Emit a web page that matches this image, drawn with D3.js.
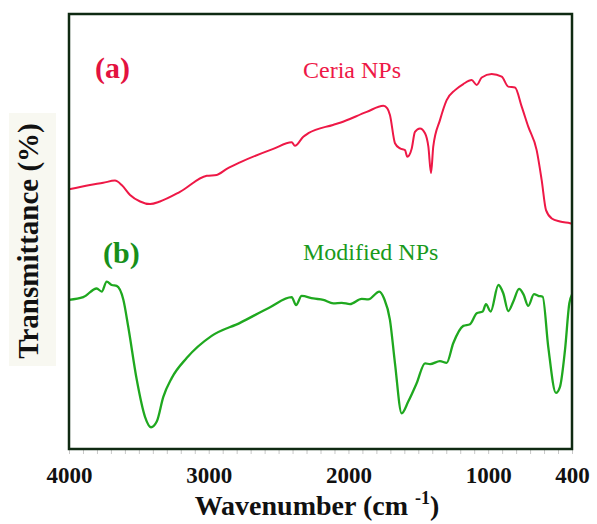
<!DOCTYPE html>
<html>
<head>
<meta charset="utf-8">
<script src="https://cdn.jsdelivr.net/npm/d3@7"></script>
<style>
  html, body { margin: 0; padding: 0; background: #fff; }
  svg { display: block; }
  text { font-family: "Liberation Serif", "DejaVu Serif", serif; }
</style>
</head>
<body>
<svg id="chart" width="597" height="524"></svg>
<script>
  // ---- data (wavenumber cm-1, transmittance a.u.) ----
  const ceriaWave = [4000, 3850, 3755, 3671, 3623, 3563, 3491, 3420, 3349, 3206, 3014, 2943, 2871, 2776, 2538, 2406, 2383, 2323, 2287, 2111, 2060, 1869, 1750, 1722, 1703, 1667, 1631, 1595, 1579, 1547, 1524, 1488, 1452, 1428, 1409, 1393, 1345, 1297, 1237, 1178, 1118, 1082, 1046, 975, 903, 856, 808, 760, 713, 653, 617, 586, 545, 486, 414, 400];
  const ceriaT = [59.7, 60.7, 61.2, 61.7, 60.7, 58.4, 56.9, 56.3, 56.9, 59.1, 62.8, 63.0, 64.4, 65.9, 69.0, 70.5, 69.7, 71.8, 72.6, 74.5, 75.0, 77.5, 78.9, 78.3, 76.8, 70.3, 69.1, 68.7, 67.2, 69.1, 72.9, 73.7, 72.6, 69.5, 63.4, 69.5, 75.6, 80.2, 82.5, 83.9, 84.8, 83.7, 85.4, 86.2, 85.6, 83.3, 83.1, 78.7, 74.1, 68.7, 61.8, 54.9, 53.0, 52.3, 51.9, 51.8];

  const modWave = [4000, 3898, 3802, 3766, 3730, 3694, 3659, 3611, 3576, 3515, 3456, 3413, 3372, 3325, 3265, 3158, 2979, 2776, 2561, 2406, 2375, 2335, 2252, 2180, 2108, 2048, 1989, 1905, 1858, 1779, 1745, 1703, 1667, 1619, 1572, 1512, 1452, 1416, 1345, 1297, 1250, 1178, 1130, 1082, 1039, 1016, 982, 927, 892, 856, 820, 779, 748, 713, 672, 641, 610, 570, 515, 486, 450, 419, 400];
  const modT = [34.3, 34.9, 36.9, 36.2, 38.5, 37.7, 37.5, 34.3, 28.1, 15.9, 7.4, 5.0, 6.3, 12.0, 16.3, 20.9, 26.0, 29.0, 32.6, 34.9, 33.1, 35.2, 34.6, 34.3, 33.5, 33.6, 33.3, 34.5, 34.4, 36.2, 34.6, 29.7, 19.7, 8.2, 10.9, 15.1, 19.7, 19.5, 20.2, 19.8, 24.3, 28.3, 28.7, 31.2, 31.6, 33.3, 31.6, 37.7, 35.8, 31.7, 33.9, 36.8, 35.6, 32.9, 35.6, 35.2, 35.0, 23.5, 12.9, 14.3, 22.8, 33.5, 35.5];

  const tickLabels = [4000, 3000, 2000, 1000, 400];
  const minorTicks = d3.range(4000, 399, -100);

  // ---- layout ----
  const margin = { left: 69, right: 25, top: 14, bottom: 75 };
  const W = 597, H = 524;
  const svg = d3.select("#chart");

  const x = d3.scaleLinear().domain([4000, 400]).range([margin.left, W - margin.right]);
  const y = d3.scaleLinear().domain([0, 100]).range([H - margin.bottom, margin.top]);

  // y label background
  svg.append("rect")
    .attr("x", 9).attr("y", 113)
    .attr("width", 47).attr("height", 253)
    .attr("fill", "#f8f8f1");

  // minor ticks (faint)
  svg.append("g")
    .attr("transform", `translate(0,${y(0)})`)
    .call(d3.axisBottom(x).tickValues(minorTicks).tickSize(5).tickFormat(""))
    .call((g) => g.select(".domain").remove())
    .call((g) => g.selectAll("line").attr("stroke", "#c8c8c8").attr("stroke-width", 1));

  // tick labels
  svg.append("g")
    .attr("transform", `translate(0,${y(0)})`)
    .call(d3.axisBottom(x).tickValues(tickLabels).tickSize(0).tickPadding(18).tickFormat(d3.format("d")))
    .call((g) => g.select(".domain").remove())
    .call((g) =>
      g.selectAll("text")
        .attr("fill", "#111")
        .style("font-family", "'Liberation Serif', serif")
        .style("font-size", "23px")
        .style("font-weight", "bold")
    );

  // curves
  const line = d3.line()
    .x((d) => x(d[0]))
    .y((d) => y(d[1]))
    .curve(d3.curveMonotoneX);

  svg.append("path")
    .datum(d3.zip(ceriaWave, ceriaT))
    .attr("fill", "none")
    .attr("stroke", "#ee1846")
    .attr("stroke-width", 2)
    .attr("stroke-linejoin", "round")
    .attr("d", line);

  svg.append("path")
    .datum(d3.zip(modWave, modT))
    .attr("fill", "none")
    .attr("stroke", "#1fa81f")
    .attr("stroke-width", 2.3)
    .attr("stroke-linejoin", "round")
    .attr("d", line);

  // frame
  svg.append("rect")
    .attr("x", x(4000)).attr("y", y(100))
    .attr("width", x(400) - x(4000))
    .attr("height", y(0) - y(100))
    .attr("fill", "none")
    .attr("stroke", "#0f2a12")
    .attr("stroke-width", 2.5);

  // annotations
  svg.append("text").attr("x", 95).attr("y", 78)
    .attr("fill", "#e3123f").style("font-size", "30px").style("font-weight", "bold")
    .text("(a)");
  svg.append("text").attr("x", 303).attr("y", 78)
    .attr("fill", "#ee1846").style("font-size", "24px")
    .text("Ceria NPs");
  svg.append("text").attr("x", 103).attr("y", 263)
    .attr("fill", "#17901a").style("font-size", "30px").style("font-weight", "bold")
    .text("(b)");
  svg.append("text").attr("x", 303).attr("y", 260)
    .attr("fill", "#1a9a1c").style("font-size", "24px")
    .text("Modified NPs");

  // axis titles
  const xl = svg.append("text")
    .attr("x", 317).attr("y", 515)
    .attr("text-anchor", "middle")
    .attr("fill", "#111")
    .style("font-size", "28px").style("font-weight", "bold");
  xl.append("tspan").text("Wavenumber (cm ");
  xl.append("tspan").attr("dy", -11).style("font-size", "18px").text("-1");
  xl.append("tspan").attr("dy", 11).text(")");

  svg.append("text")
    .attr("transform", "translate(38,241) rotate(-90)")
    .attr("text-anchor", "middle")
    .attr("fill", "#111")
    .style("font-size", "29px").style("font-weight", "bold")
    .text("Transmittance (%)");
</script>
</body>
</html>
